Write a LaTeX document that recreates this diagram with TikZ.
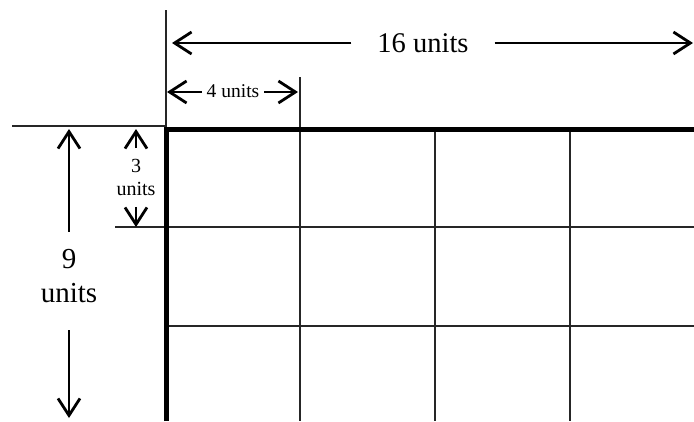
\documentclass[tikz,border=0pt]{standalone}
\usepackage{fontspec}
\setmainfont{Liberation Serif}
\usetikzlibrary{arrows.meta}
\begin{document}
\begin{tikzpicture}[x=1pt,y=-1pt,
  thinline/.style={line width=1.3pt,black!85},
  thickline/.style={line width=5pt,black},
  dimarrow/.style={line width=2.3pt,-{Straight Barb[length=17pt,width=22pt,line width=2.8pt]}},
  lbl/.style={inner sep=0pt,align=center}]
\useasboundingbox (0,0) rectangle (694,421);
% grid thin lines
\draw[thinline] (300,77) -- (300,421);
\draw[thinline] (435,128) -- (435,421);
\draw[thinline] (570,128) -- (570,421);
\draw[thinline] (115,227) -- (694,227);
\draw[thinline] (165,326) -- (694,326);
% extension lines
\draw[thinline] (166,10) -- (166,128);
\draw[thinline] (12,126) -- (166,126);
% thick border
\draw[thickline] (166,421) -- (166,129) -- (694,129);
% labels
\node[lbl,inner xsep=26pt,font=\fontsize{28.5}{34}\selectfont] (t16) at (423,43) {16 units};
\node[lbl,inner xsep=5pt,font=\fontsize{19.5}{22}\selectfont] (t4) at (233,91) {4 units};
\node[lbl,inner ysep=11pt,font=\fontsize{20}{23}\selectfont] (t3) at (136,177.5) {3\\units};
\node[lbl,inner ysep=18pt,font=\fontsize{29}{34}\selectfont] (t9) at (69,276.5) {9\\units};
% arrow tips
\coordinate (p16l) at (172,43);
\coordinate (p16r) at (693,43);
\coordinate (p4l) at (167,92);
\coordinate (p4r) at (298,92);
\coordinate (p3u) at (136,129);
\coordinate (p3d) at (136,227);
\coordinate (p9u) at (69,129);
\coordinate (p9d) at (69,418);
% arrows
\draw[dimarrow] (t16.west) -- (p16l);
\draw[dimarrow] (t16.east) -- (p16r);
\draw[dimarrow] (t4.west |- p4l) -- (p4l);
\draw[dimarrow] (t4.east |- p4r) -- (p4r);
\draw[dimarrow] (t3.north) -- (p3u);
\draw[dimarrow] (t3.south) -- (p3d);
\draw[dimarrow] (t9.north) -- (p9u);
\draw[dimarrow] ([yshift=-9pt]t9.south) -- (p9d);
\end{tikzpicture}
\end{document}
